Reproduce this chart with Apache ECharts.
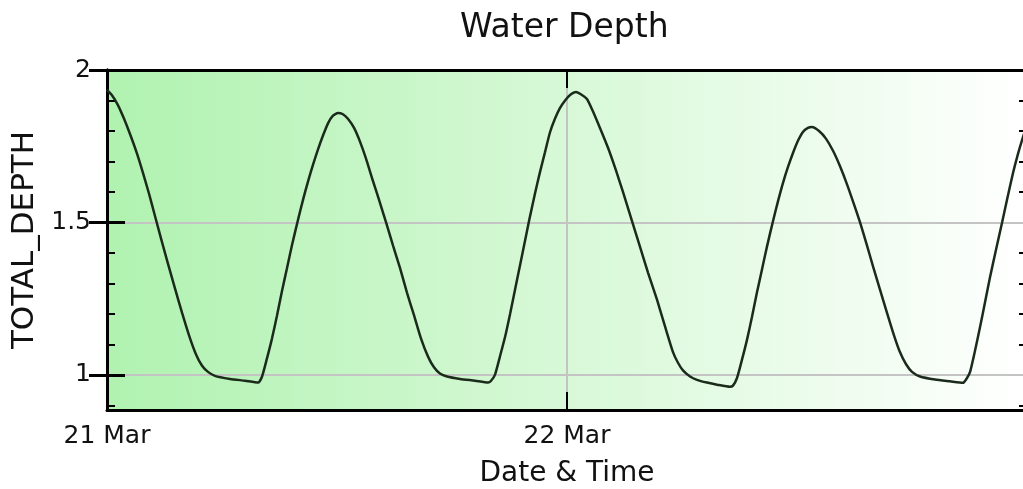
<!DOCTYPE html>
<html><head><meta charset="utf-8">
<script src="https://cdn.jsdelivr.net/npm/echarts@6/dist/echarts.min.js"></script>
<style>html,body{margin:0;padding:0;background:#fff}#c{width:1023px;height:489px}</style>
</head><body><div id="c"></div>
<script>
const chartTitle = 'Water Depth';
const xAxisName = 'Date & Time';
const yAxisName = 'TOTAL_DEPTH';
const xLabels = ['21 Mar', '22 Mar', '23 Mar'];
// hours since 21 Mar 00:00
const hours = [0,0.26,0.57,0.89,1.2,1.57,1.88,2.19,2.5,2.82,3.18,3.55,3.91,4.28,4.64,4.96,5.27,5.63,6.42,7.2,7.88,
  8.09,8.35,8.61,8.87,9.13,9.39,9.65,9.97,10.23,10.49,10.75,11.01,11.27,11.53,11.79,12.05,
  12.31,12.57,12.89,13.2,13.51,13.83,14.19,14.56,14.92,15.29,15.65,16.02,16.38,16.75,17.06,17.37,17.74,18.42,19.2,19.88,
  20.03,20.24,20.5,20.77,21.03,21.29,21.55,21.81,22.07,22.33,22.59,22.85,23.11,23.37,23.63,23.9,24.16,24.47,
  24.78,25.04,25.3,25.72,26.14,26.56,26.92,27.34,27.81,28.23,28.7,29.11,29.53,29.79,30.05,30.42,30.78,31.3,31.83,32.5,
  32.66,32.87,33.13,33.39,33.65,33.91,34.17,34.43,34.75,35.01,35.27,35.53,35.79,36.05,36.31,36.57,36.78,
  37.15,37.51,37.88,38.24,38.61,38.97,39.29,39.65,39.97,40.33,40.7,41.06,41.37,41.69,42.0,42.42,43.2,43.98,44.66,
  44.87,45.03,45.29,45.55,45.81,46.07,46.38,46.7,46.96,47.27,47.53,47.79,48.0];
const depth = [1.935,1.917,1.885,1.84,1.79,1.725,1.662,1.595,1.522,1.447,1.365,1.283,1.205,1.13,1.068,1.03,1.01,0.997,0.987,0.981,0.975,
  0.995,1.055,1.12,1.195,1.275,1.35,1.425,1.51,1.575,1.635,1.69,1.74,1.785,1.825,1.85,1.859,
  1.855,1.84,1.81,1.765,1.71,1.645,1.575,1.5,1.425,1.35,1.27,1.195,1.12,1.06,1.025,1.005,0.995,0.987,0.981,0.975,
  0.98,1.0,1.06,1.125,1.2,1.28,1.36,1.44,1.52,1.595,1.665,1.73,1.795,1.84,1.875,1.9,1.918,1.928,
  1.918,1.905,1.872,1.81,1.745,1.67,1.6,1.515,1.42,1.335,1.246,1.16,1.075,1.04,1.015,0.995,0.984,0.975,0.968,0.961,
  0.965,0.99,1.05,1.115,1.19,1.27,1.345,1.42,1.505,1.57,1.63,1.682,1.728,1.768,1.797,1.81,1.813,
  1.8,1.775,1.735,1.685,1.625,1.56,1.5,1.425,1.355,1.28,1.203,1.13,1.075,1.035,1.01,0.995,0.985,0.979,0.974,
  0.99,1.01,1.08,1.157,1.238,1.32,1.41,1.5,1.575,1.662,1.725,1.78,1.82];
const yMajorTicks = [1, 1.5, 2];
const yMinorTicks = [0.9, 1.1, 1.2, 1.3, 1.4, 1.6, 1.7, 1.8, 1.9];
const yMin = 0.885, yMax = 2;
const xMin = 0, xMax = 48, xStep = 24;

const FONT = 'DejaVu Sans';
const gridBox = { left: 107, top: 70, right: -4, bottom: 79, outerBoundsMode: 'none', containLabel: false };
const chart = echarts.init(document.getElementById('c'), null, { renderer: 'canvas' });

const majorY = (pos) => ({
  type: 'value', gridIndex: 0, position: pos, min: yMin, max: yMax,
  axisLine: { show: true, lineStyle: { color: '#000', width: 3 } },
  axisTick: { show: true, inside: true, length: 18, customValues: yMajorTicks, lineStyle: { color: '#000', width: 3 } },
  axisLabel: { show: pos === 'left', customValues: yMajorTicks, margin: 16, color: '#111', fontSize: 25, fontFamily: FONT },
  splitLine: { show: pos === 'left', lineStyle: { color: '#c4c4c4', width: 2 } }
});
const minorY = (pos) => ({
  type: 'value', gridIndex: 1, position: pos, min: yMin, max: yMax,
  axisLine: { show: false },
  axisTick: { show: true, inside: true, length: 8, customValues: yMinorTicks, lineStyle: { color: '#000', width: 2 } },
  axisLabel: { show: false },
  splitLine: { show: false }
});

const leftY = majorY('left');
leftY.name = yAxisName;
leftY.nameLocation = 'middle';
leftY.nameGap = 66;
leftY.nameTextStyle = { fontSize: 31, fontFamily: FONT, color: '#111' };

chart.setOption({
  animation: false,
  backgroundColor: '#fff',
  title: {
    text: chartTitle, left: 460, top: 12, padding: 0,
    textStyle: { fontSize: 33, fontWeight: 'normal', fontFamily: FONT, color: '#111' }
  },
  grid: [
    Object.assign({ show: true, borderWidth: 0,
      backgroundColor: new echarts.graphic.LinearGradient(0, 0, 1, 0, [
        { offset: 0, color: '#b0f2b0' }, { offset: 1, color: '#ffffff' }
      ]) }, gridBox),
    Object.assign({ show: false }, gridBox)
  ],
  xAxis: [
    {
      type: 'value', gridIndex: 0, position: 'bottom', min: xMin, max: xMax, interval: xStep,
      name: xAxisName, nameLocation: 'middle', nameGap: 50,
      nameTextStyle: { fontSize: 28, fontFamily: FONT, color: '#111' },
      axisLine: { show: true, lineStyle: { color: '#000', width: 3 } },
      axisTick: { show: true, inside: true, length: 18, lineStyle: { color: '#000', width: 2 } },
      axisLabel: { margin: 14, color: '#111', fontSize: 25, fontFamily: FONT, showMaxLabel: false,
        formatter: (v) => xLabels[Math.round(v / xStep)] },
      splitLine: { show: true, lineStyle: { color: '#c4c4c4', width: 2 } }
    },
    {
      type: 'value', gridIndex: 0, position: 'top', min: xMin, max: xMax, interval: xStep,
      axisLine: { show: true, lineStyle: { color: '#000', width: 3 } },
      axisTick: { show: true, inside: true, length: 18, lineStyle: { color: '#000', width: 2 } },
      axisLabel: { show: false }, splitLine: { show: false }
    },
    { type: 'value', gridIndex: 1, min: xMin, max: xMax, show: false }
  ],
  yAxis: [ leftY, majorY('right'), minorY('left'), minorY('right') ],
  series: [{
    type: 'line', xAxisIndex: 0, yAxisIndex: 0,
    data: hours.map((h, i) => [h, depth[i]]),
    showSymbol: false, symbol: 'none', smooth: 0.2, clip: true,
    lineStyle: { color: '#1b2b1b', width: 2.5 }
  }]
});
</script></body></html>
